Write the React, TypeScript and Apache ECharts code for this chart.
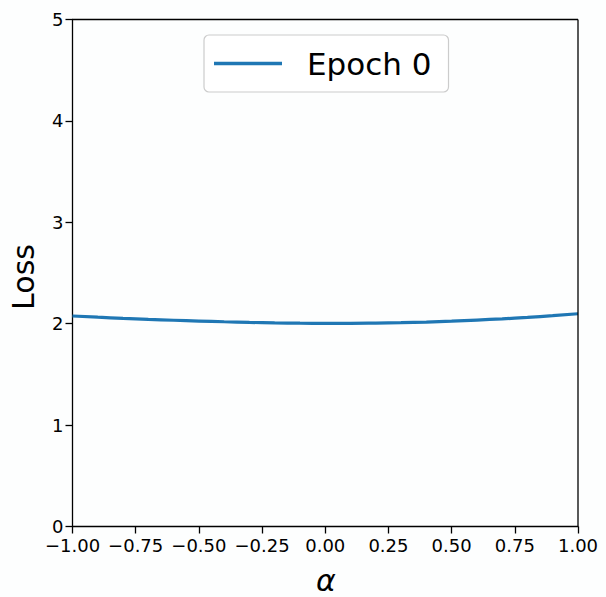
import React, { useEffect, useRef } from "react";
import * as echarts from "echarts";

const alphas = [-1.0, -0.9, -0.8, -0.7, -0.6, -0.5, -0.4, -0.3, -0.2, -0.1, 0.0, 0.1, 0.2, 0.3, 0.4, 0.5, 0.6, 0.7, 0.8, 0.9, 1.0];
const lossEpoch0 = [2.076, 2.064, 2.053, 2.043, 2.034, 2.026, 2.019, 2.013, 2.008, 2.005, 2.004, 2.004, 2.006, 2.010, 2.016, 2.025, 2.036, 2.048, 2.062, 2.079, 2.098];
const seriesName = "Epoch 0";
const xLabel = "α";
const yLabel = "Loss";

const FONT = "DejaVu Sans";

export default function App() {
  const ref = useRef<HTMLDivElement>(null);
  useEffect(() => {
    if (!ref.current) return;
    const chart = echarts.init(ref.current, undefined, { renderer: "svg" });
    const data = alphas.map((a, i) => [a, lossEpoch0[i]]);
    chart.setOption({
      animation: false,
      backgroundColor: "#fdfefe",
      grid: { left: 72.5, right: 28, top: 19.5, bottom: 70.5, containLabel: false },
      legend: {
        left: 204,
        top: 35,
        padding: [13, 17, 13, 10],
        borderColor: "#cccccc",
        borderWidth: 1.2,
        borderRadius: 5,
        backgroundColor: "#ffffff",
        itemWidth: 68,
        itemHeight: 3.5,
        textStyle: { fontFamily: FONT, fontSize: 31, color: "#000", padding: [0, 0, 0, 20] },
        data: [{ name: seriesName, icon: "rect" }],
        itemStyle: { color: "#1f77b4" },
      },
      xAxis: {
        type: "value",
        min: -1,
        max: 1,
        interval: 0.25,
        splitLine: { show: false },
        axisLine: { show: true, onZero: false, lineStyle: { color: "#000", width: 1.3 } },
        axisTick: { show: true, inside: false, length: 7, lineStyle: { color: "#000", width: 1.3 } },
        axisLabel: {
          margin: 10,
          fontFamily: FONT,
          fontSize: 18,
          color: "#000",
          formatter: (v: number) => v.toFixed(2).replace("-", "\u2212"),
        },
      },
      yAxis: {
        type: "value",
        min: 0,
        max: 5,
        interval: 1,
        splitLine: { show: false },
        axisLine: { show: true, onZero: false, lineStyle: { color: "#000", width: 1.3 } },
        axisTick: { show: true, inside: false, length: 7, lineStyle: { color: "#000", width: 1.3 } },
        axisLabel: { margin: 9, fontFamily: FONT, fontSize: 18, color: "#000" },
      },
      graphic: [
        {
          type: "line",
          shape: { x1: 578, y1: 19.5, x2: 578, y2: 526.5 },
          style: { stroke: "#000", lineWidth: 1.3 },
          z: 10,
        },
        {
          type: "line",
          shape: { x1: 72.5, y1: 19.5, x2: 578, y2: 19.5 },
          style: { stroke: "#000", lineWidth: 1.3 },
          z: 10,
        },
        {
          type: "text",
          x: 23.5,
          y: 277,
          rotation: Math.PI / 2,
          style: {
            text: yLabel,
            fontFamily: FONT,
            fontSize: 30,
            fill: "#000",
            align: "center",
            verticalAlign: "middle",
          },
        },
        {
          type: "text",
          x: 326,
          y: 580,
          style: {
            text: xLabel,
            fontFamily: FONT,
            fontSize: 30,
            fontStyle: "italic",
            fill: "#000",
            align: "center",
            verticalAlign: "middle",
          },
        },
      ],
      series: [
        {
          name: seriesName,
          type: "line",
          data,
          smooth: true,
          showSymbol: false,
          symbol: "none",
          lineStyle: { color: "#1f77b4", width: 3.2 },
          itemStyle: { color: "#1f77b4" },
        },
      ],
    });
    return () => chart.dispose();
  }, []);
  return (
    <div
      ref={ref}
      style={{ position: "fixed", left: 0, top: 0, width: 606, height: 597, background: "#fdfefe" }}
    />
  );
}
